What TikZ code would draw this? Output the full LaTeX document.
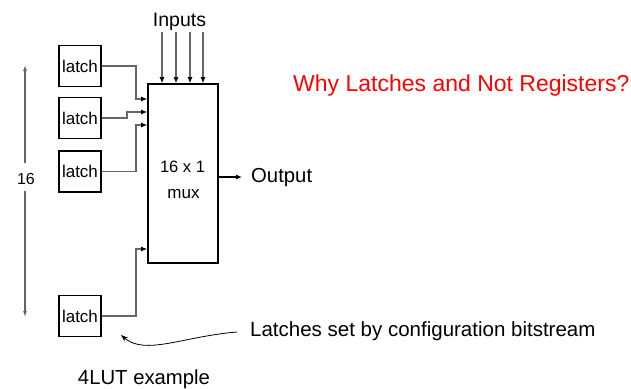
\documentclass[tikz,border=0pt]{standalone}
\usepackage{fontspec}
\setmainfont{Liberation Sans}
\usetikzlibrary{arrows.meta}
\begin{document}
\begin{tikzpicture}[x=1pt,y=-1pt,
  box/.style={draw=black,line width=1.6pt,minimum width=42pt,minimum height=41pt,inner sep=0pt,font=\fontsize{17}{20}\selectfont},
  wire/.style={draw=black!60,line width=1.1pt,-{Latex[length=6pt,width=5pt,color=black]}},
  lbl/.style={inner sep=0pt,anchor=base,font=\fontsize{20.3}{24}\selectfont}]
\useasboundingbox (0,0) rectangle (631,388);
% latches
\node[box] (l1) at (80,66) {\raisebox{0pt}{latch}};
\node[box] (l2) at (80,118) {latch};
\node[box] (l3) at (80,171.5) {latch};
\node[box] (l4) at (80,316) {latch};
% mux
\node[draw=black,line width=1.6pt,minimum width=70pt,minimum height=179pt,inner sep=0pt] (mux) at (183,173.5) {};
\node[lbl,font=\fontsize{16.5}{20}\selectfont] (t1) at (182.5,172) {16 x 1};
\node[lbl,font=\fontsize{17}{20}\selectfont] (t2) at (183.5,198) {mux};
% inputs
\node[lbl,font=\fontsize{19.5}{24}\selectfont] (inp) at (179.5,26) {Inputs};
\foreach \x/\n in {162/a,176/b,190/c,203/d}{
  \coordinate (in\n) at (\x,32);
  \draw[wire] (in\n) -- (mux.north -| in\n);
}
% latch wires
\draw[wire] (l1.east) -- (136,66) |- (mux.west |- 0,99);
\draw[wire] (l2.east) -- (127,118) |- (mux.west |- 0,112);
\draw[wire] (l3.east) -- (136,171.5) |- (mux.west |- 0,125);
\draw[wire] (l4.east) -- (136,316) |- (mux.west |- 0,249);
% output
\node[lbl,anchor=base west] (out) at (251,182) {Output};
\draw[line width=1.1pt,-{Latex[length=6pt,width=5pt]}] (mux.east |- 0,177) -- (242,177);
% 16 arrow
\node[lbl,font=\fontsize{16}{20}\selectfont] (n16) at (26,184) {16};
\coordinate (top16) at (25,65);
\coordinate (bot16) at (25,317);
\draw[draw=black!60,line width=1.1pt,-{Latex[length=6pt,width=4pt]}] (25,163) -- (top16);
\draw[draw=black!60,line width=1.1pt,-{Latex[length=6pt,width=4pt]}] (25,191) -- (bot16);
% title
\node[lbl,anchor=base west,text=red,font=\fontsize{23}{28}\selectfont] (why) at (293,91) {Why Latches and Not Registers?};
% note
\node[lbl,anchor=base west,font=\fontsize{20.5}{24}\selectfont] (note) at (250,336) {Latches set by configuration bitstream};
\coordinate (nstart) at (237,332);
\coordinate (ntip) at (121,335);
\draw[line width=0.8pt,-{Stealth[length=7pt,width=5pt]}] (nstart) .. controls (185,336) and (145,356) .. (ntip);
% caption
\node[lbl] (cap) at (144,384) {4LUT example};
\end{tikzpicture}
\end{document}
